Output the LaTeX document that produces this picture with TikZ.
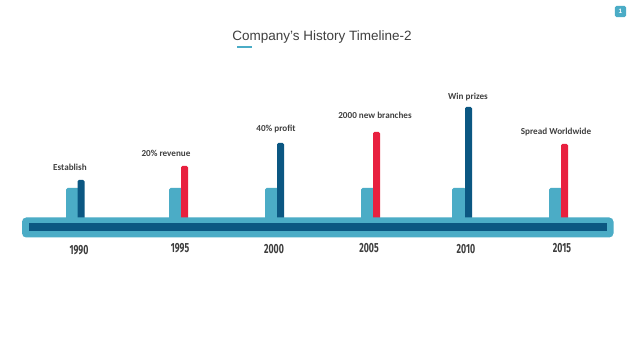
\documentclass[tikz,border=0pt]{standalone}
\usepackage{fontspec}
\setmainfont{Liberation Sans}
\newfontfamily\labfont{Carlito}
\newfontfamily\yearfont[FakeStretch=0.66]{Fira Sans}
\definecolor{lightb}{HTML}{4BACC6}
\definecolor{darkb}{HTML}{0B5782}
\definecolor{redb}{HTML}{E8203F}
\definecolor{txt}{HTML}{404040}
\tikzset{
  stub/.style={fill=lightb, draw=none, rounded corners=1.2pt},
  pole/.style={draw=none, rounded corners=1pt},
  evlabel/.style={font=\labfont\bfseries\fontsize{6.5}{7}\selectfont, text=txt, inner sep=0pt},
  yearlabel/.style={font=\yearfont\bfseries\fontsize{9.4}{10}\selectfont, text=txt!95!black, inner sep=0pt},
}
\begin{document}
\begin{tikzpicture}[x=0.025cm,y=-0.025cm]
\useasboundingbox (0,0) rectangle (640,360);
\fill[white] (0,0) rectangle (640,360);
% title
\node[font=\fontsize{9.6}{11}\selectfont, text=txt, inner sep=0pt] (title) at (322,37) {Company's History Timeline-2};
\fill[lightb] (237,46.5) rectangle (252,47.8);
% page badge
\node[fill=lightb, rounded corners=1.2pt, minimum width=8pt, minimum height=8pt, inner sep=0pt, text=white, font=\bfseries\fontsize{4.5}{5}\selectfont] (page) at (620.5,11.5) {1};
% stubs
\foreach \x in {66,169,265,361,452,549} {\fill[stub] (\x,188) rectangle ++(14,32);}
% poles
\fill[pole,darkb] (77.5,180) rectangle (84.5,220);
\fill[pole,redb] (181,166) rectangle (188,220);
\fill[pole,darkb] (277,143) rectangle (284,220);
\fill[pole,redb] (373,132) rectangle (380,220);
\fill[pole,darkb] (465,107) rectangle (472,220);
\fill[pole,redb] (561,144) rectangle (568,220);
% main bar
\fill[lightb, rounded corners=3pt] (22,217.5) rectangle (613.5,237.5);
\fill[darkb] (29,223.5) rectangle (607,231.5);
% labels
\node[evlabel] (l1) at (70,167) {Establish};
\node[evlabel] (l2) at (166,153) {20\% revenue};
\node[evlabel] (l3) at (276,129) {40\% profit};
\node[evlabel] (l4) at (375,115) {2000 new branches};
\node[evlabel] (l5) at (468,97) {Win prizes};
\node[evlabel] (l6) at (556,132) {Spread Worldwide};
% years
\node[yearlabel] (y1) at (79,250) {1990};
\node[yearlabel] (y2) at (180,248) {1995};
\node[yearlabel] (y3) at (274,249) {2000};
\node[yearlabel] (y4) at (369,248) {2005};
\node[yearlabel] (y5) at (466,249) {2010};
\node[yearlabel] (y6) at (562,248) {2015};
\end{tikzpicture}
\end{document}
